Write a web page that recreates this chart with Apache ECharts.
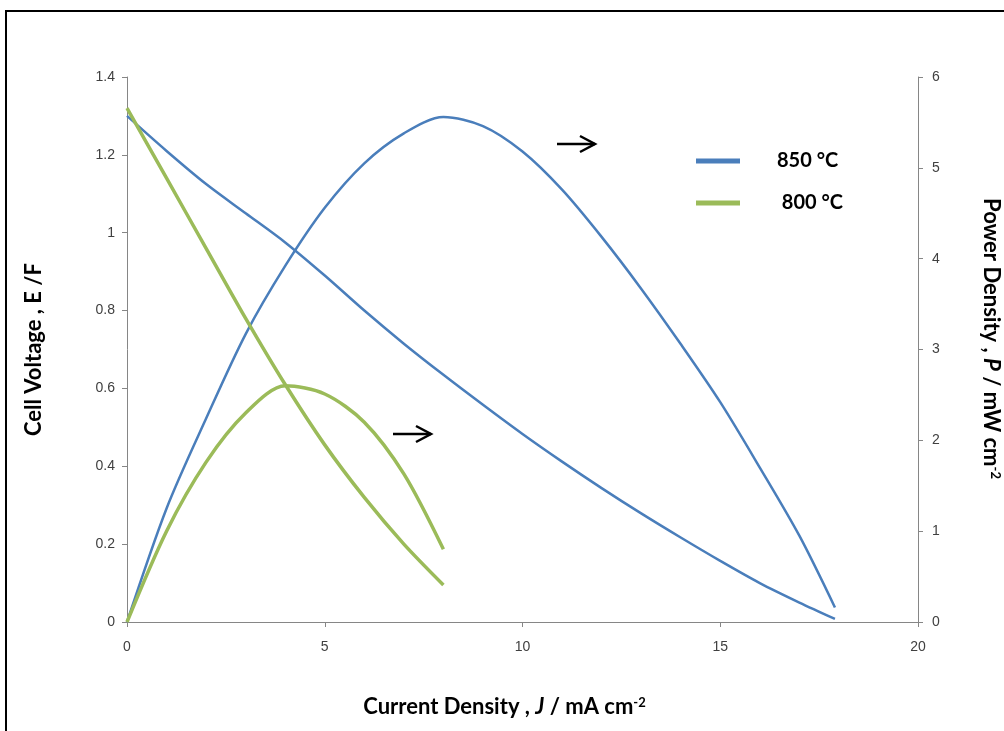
<!DOCTYPE html>
<html>
<head>
<meta charset="utf-8">
<script src="https://cdn.jsdelivr.net/npm/echarts@6/dist/echarts.min.js"></script>
<style>
  html, body { margin: 0; padding: 0; background: #fff; }
  #chart { width: 1004px; height: 731px; }
</style>
</head>
<body>
<div id="chart"></div>
<script>
// Current density, mA cm-2
const j850 = [0, 1, 2, 3, 4, 5, 6, 7, 8, 9, 10, 11, 12, 13, 14, 15, 16, 17, 17.9];
const j800 = [0, 1, 2, 3, 4, 5, 6, 7, 8];

// Cell voltage, V
const v850 = [1.30, 1.21, 1.125, 1.05, 0.975, 0.89, 0.80, 0.715, 0.635, 0.558, 0.483, 0.412, 0.344, 0.279, 0.217, 0.157, 0.100, 0.050, 0.008];
const v800 = [1.32, 1.14, 0.96, 0.78, 0.61, 0.455, 0.32, 0.20, 0.095];

// Power density, mW cm-2
const p850 = [0, 1.25, 2.24, 3.17, 3.92, 4.56, 5.05, 5.38, 5.56, 5.46, 5.18, 4.76, 4.24, 3.67, 3.06, 2.42, 1.70, 0.95, 0.16];
const p800 = [0, 1.0, 1.76, 2.3, 2.6, 2.51, 2.2, 1.63, 0.8];

const seriesNames = ['850 °C', '800 °C'];
const xTicks = { min: 0, max: 20, interval: 5 };
const vTicks = { min: 0, max: 1.4, interval: 0.2 };
const pTicks = { min: 0, max: 6, interval: 1 };

const BLUE = '#4A7EBB';
const GREEN = '#9BBB59';
const AXIS = '#868686';
const LABEL_FONT = '"Liberation Sans", Arial, sans-serif';
const TITLE_FONT = 'Lato, "Open Sans", sans-serif';

const pairs = (xs, ys) => xs.map((x, i) => [x, ys[i]]);

const titleRich = {
  b: { fontFamily: TITLE_FONT, fontWeight: 'bold', fontSize: 22, color: '#000' },
  i: { fontFamily: TITLE_FONT, fontWeight: 'bold', fontStyle: 'italic', fontSize: 22, color: '#000' },
  s: { fontFamily: TITLE_FONT, fontWeight: 'bold', fontSize: 13, color: '#000', verticalAlign: 'top', lineHeight: 13 }
};

const axisCommon = {
  axisLine: { show: true, lineStyle: { color: AXIS, width: 1 } },
  axisTick: { show: true, length: 5, inside: false, lineStyle: { color: AXIS } },
  splitLine: { show: false },
  axisLabel: { color: '#404040', fontFamily: LABEL_FONT, fontSize: 14 }
};

const chart = echarts.init(document.getElementById('chart'), null, { renderer: 'canvas' });

// Open-headed annotation arrow pointing right
function arrow(x0, x1, y) {
  return {
    type: 'group',
    children: [
      { type: 'line', shape: { x1: x0, y1: y, x2: x1, y2: y }, style: { stroke: '#000', lineWidth: 2.5 } },
      { type: 'polyline', shape: { points: [[x1 - 15, y - 8], [x1, y], [x1 - 15, y + 8]] }, style: { stroke: '#000', lineWidth: 2.5, fill: null } }
    ]
  };
}

const lineSeries = (name, axis, xs, ys, color, width) => ({
  name, type: 'line', yAxisIndex: axis, data: pairs(xs, ys),
  smooth: 0.3, showSymbol: false, symbol: 'none',
  lineStyle: { color, width }, itemStyle: { color }
});

chart.setOption({
  backgroundColor: '#fff',
  animation: false,
  grid: { left: 127, right: 86, top: 77, bottom: 109, containLabel: false, outerBoundsMode: 'none' },
  legend: {
    data: seriesNames,
    orient: 'vertical',
    left: 696,
    top: 149,
    padding: 0,
    icon: 'rect',
    itemWidth: 44,
    itemHeight: 5,
    itemGap: 18,
    textStyle: { fontFamily: TITLE_FONT, fontWeight: 'bold', fontSize: 20, color: '#000', padding: [0, 0, 0, 32], lineHeight: 24 },
    formatter: name => (name === '800 °C' ? ' ' + name : name)
  },
  xAxis: Object.assign({}, axisCommon, {
    type: 'value',
    min: xTicks.min, max: xTicks.max, interval: xTicks.interval,
    axisLabel: Object.assign({}, axisCommon.axisLabel, { margin: 18 }),
    name: '{b|Current Density , }{i|J}{b| / mA cm}{s|-2}',
    nameLocation: 'middle',
    nameGap: 74,
    nameTextStyle: { rich: titleRich, padding: [0, 36, 0, 0] }
  }),
  yAxis: [
    Object.assign({}, axisCommon, {
      type: 'value',
      position: 'left',
      min: vTicks.min, max: vTicks.max, interval: vTicks.interval,
      axisLabel: Object.assign({}, axisCommon.axisLabel, { margin: 12 }),
      name: '{b|Cell Voltage , E /F}',
      nameLocation: 'middle',
      nameRotate: 90,
      nameGap: 82,
      nameTextStyle: { rich: titleRich }
    }),
    Object.assign({}, axisCommon, {
      type: 'value',
      position: 'right',
      min: pTicks.min, max: pTicks.max, interval: pTicks.interval,
      axisLabel: Object.assign({}, axisCommon.axisLabel, { margin: 14 }),
      name: '{b|Power Density , }{i|P}{b| / mW cm}{s|-2}',
      nameLocation: 'middle',
      nameRotate: -90,
      nameGap: 62,
      nameTextStyle: { rich: titleRich, padding: [0, 22, 0, 0] }
    })
  ],
  series: [
    lineSeries(seriesNames[0], 0, j850, v850, BLUE, 2.5),
    lineSeries(seriesNames[0], 1, j850, p850, BLUE, 2.5),
    lineSeries(seriesNames[1], 0, j800, v800, GREEN, 3.5),
    lineSeries(seriesNames[1], 1, j800, p800, GREEN, 3.5)
  ],
  graphic: [
    { type: 'rect', shape: { x: 6, y: 11, width: 1010, height: 740 }, style: { fill: null, stroke: '#000', lineWidth: 2 }, silent: true },
    arrow(557, 595, 144),
    arrow(393, 431, 434)
  ]
});
</script>
</body>
</html>
